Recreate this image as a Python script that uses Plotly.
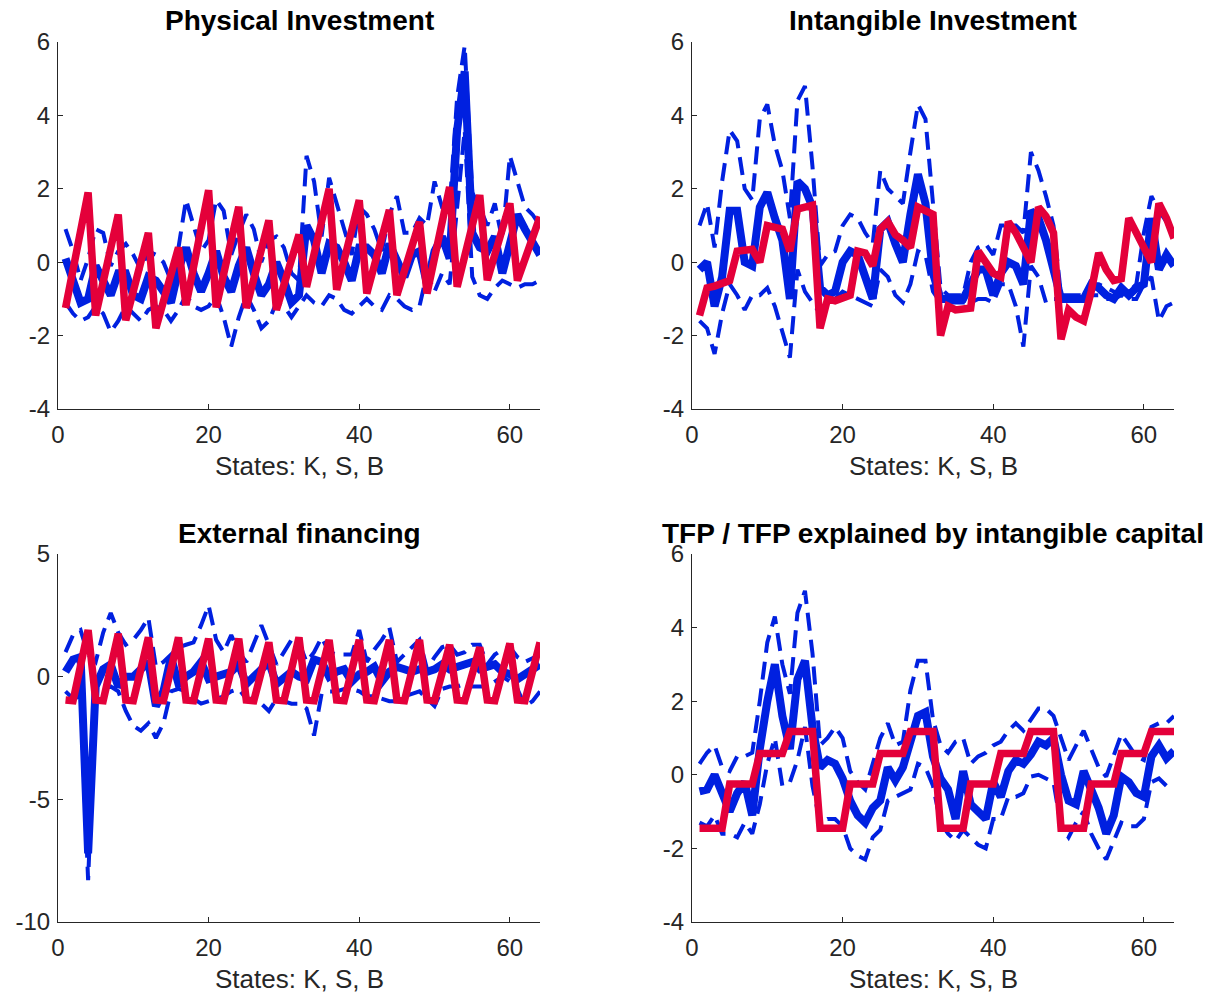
import plotly.graph_objects as go

W, H = 1220, 1001

states = list(range(1, 65))
x_ticks = [0, 20, 40, 60]
x_label = "States: K, S, B"

# ---------------- Physical Investment ----------------
phys_model = [-1.25, -0.2, 0.85, 1.9, -1.45, -0.53, 0.38, 1.3,
              -1.58, -0.79, 0.0, 0.8, -1.8, -1.07, -0.33, 0.4,
              -1.17, -0.13, 0.92, 1.96, -1.23, -0.32, 0.6, 1.51,
              -1.25, -0.45, 0.34, 1.14, -1.3, -0.62, 0.07, 0.75,
              -0.67, 0.22, 1.11, 2.0, -0.75, 0.06, 0.88, 1.69,
              -0.85, -0.09, 0.66, 1.42, -0.9, -0.23, 0.43, 1.1,
              -0.85, 0.12, 1.08, 2.05, -0.67, 0.16, 1.0, 1.83,
              -0.49, 0.21, 0.9, 1.6, -0.5, 0.08, 0.66, 1.24]
phys_mean = [0.1, -0.5, -1.1, -1.0, -0.1, -0.5, -0.9, -0.3,
             -0.3, -0.9, -1.0, -0.4, -0.5, -0.8, -1.1, -0.2,
             0.4, -0.3, -0.8, -0.3, 0.3, -0.4, -0.8, -0.1,
             0.4, -0.3, -0.9, -0.6, 0.0, -0.5, -1.1, -0.9,
             1.0, 0.6, -0.3, 0.5, 0.4, 0.0, -0.5, 0.4,
             0.4, 0.2, -0.3, 0.5, 0.0, -0.4, 0.2, 0.3,
             -0.6, 0.3, 0.7, 0.1, 3.6, 5.2, 0.8, 0.4,
             0.3, 0.7, -0.3, 0.6, 1.3, 0.9, 0.5, 0.2]
phys_upper = [0.9, 0.3, -0.5, 0.1, 0.9, 0.8, -0.1, 0.3,
              0.5, 0.2, -0.2, 0.3, 0.2, 0.0, -0.5, 0.4,
              1.7, 1.0, 0.3, 0.6, 1.7, 1.4, 0.2, 0.8,
              1.3, 0.9, 0.0, 0.6, 0.7, 0.4, -0.3, -0.5,
              2.9, 2.2, 0.7, 2.3, 1.6, 0.9, 0.2, 1.5,
              1.3, 0.9, 0.3, 1.3, 1.8, 0.8, 0.8, 1.2,
              1.0, 2.2, 1.5, 1.5, 4.5, 5.9, 1.9, 1.5,
              1.0, 1.6, 0.6, 2.9, 2.2, 1.5, 1.3, 1.0]
phys_lower = [-1.1, -1.4, -1.6, -1.5, -1.2, -1.4, -1.9, -1.6,
              -1.2, -1.4, -1.6, -1.3, -1.2, -1.3, -1.6, -1.3,
              -0.9, -1.2, -1.3, -1.2, -0.9, -1.5, -2.3, -1.5,
              -0.9, -1.3, -1.8, -1.6, -1.1, -1.2, -1.5, -1.2,
              -0.9, -1.1, -1.2, -0.9, -1.0, -1.3, -1.4, -1.2,
              -1.0, -1.2, -1.3, -0.9, -1.0, -1.2, -1.3, -1.2,
              -0.3, -0.8, -0.3, -0.6, 1.5, 3.6, -0.4, -0.9,
              -1.0, -0.7, -0.5, -0.6, -0.7, -0.6, -0.6, -0.5]

# ---------------- Intangible Investment ----------------
intang_model = [-1.45, -0.7, -0.65, -0.55, -0.5, 0.3, 0.35, 0.35,
                0.0, 1.0, 0.95, 0.9, 0.3, 1.45, 1.5, 1.55,
                -1.8, -1.0, -1.05, -1.0, -0.9, 0.3, 0.25, -0.1,
                0.9, 1.1, 0.75, 0.6, 0.4, 1.5, 1.4, 1.3,
                -2.0, -1.2, -1.3, -1.3, -1.25, 0.3, 0.0, -0.3,
                -0.4, 1.1, 0.8, 0.4, 0.0, 1.5, 1.25, 0.8,
                -2.1, -1.3, -1.5, -1.6, -0.8, 0.25, -0.2, -0.5,
                -0.45, 1.2, 0.8, 0.4, 0.0, 1.6, 1.2, 0.65]
intang_mean = [-0.2, 0.0, -1.2, -0.4, 1.4, 1.4, 0.0, -0.1,
               1.5, 1.9, 1.2, 0.6, -1.0, 2.2, 2.0, 1.5,
               -0.7, -0.9, -0.8, 0.0, 0.3, 0.2, -0.4, -1.0,
               0.9, 1.1, 0.5, 0.0, 1.3, 2.4, 1.6, -0.3,
               -1.0, -1.0, -1.0, -1.0, -0.6, -0.2, -0.2, -0.9,
               -0.3, 0.0, -0.1, -0.6, 1.4, 1.2, 0.6, -0.2,
               -1.0, -1.0, -1.0, -1.0, -0.6, -0.7, -0.9, -1.0,
               -0.7, -0.9, -0.7, -0.6, 1.2, -0.2, 0.2, -0.1]
intang_upper = [1.0, 1.6, 0.4, 2.2, 3.6, 3.3, 2.0, 1.7,
                3.9, 4.3, 3.2, 2.5, 1.2, 4.4, 4.8, 2.6,
                -0.1, 0.2, 0.3, 1.0, 1.3, 1.2, 0.8, 0.5,
                2.5, 2.0, 1.8, 1.6, 3.0, 4.3, 3.9, 1.5,
                -0.7, -0.9, -0.9, -0.9, 0.0, 0.4, 0.5, 0.2,
                1.0, 1.0, 1.0, 0.8, 3.0, 2.5, 1.8, 1.0,
                -0.9, -0.9, -0.9, -0.9, -0.6, -0.6, -0.7, -0.8,
                -0.9, -0.8, -0.6, 0.8, 1.8, 1.4, 1.1, 0.8]
intang_lower = [-1.6, -1.8, -2.5, -1.4, -0.6, -0.9, -1.3, -0.9,
                -0.9, -0.7, -1.2, -1.9, -2.6, -0.2, -0.8, -1.1,
                -1.4, -1.1, -1.0, -0.8, -0.9, -1.0, -1.1, -1.2,
                -0.2, -0.4, -0.9, -1.1, -0.6, 0.3, 0.2, -0.8,
                -1.1, -1.1, -1.1, -1.1, -1.1, -1.0, -1.0, -1.1,
                -0.6, -0.6, -1.2, -2.3, -0.1, -0.4, -1.1, -1.0,
                -1.0, -1.0, -1.0, -1.0, -0.9, -0.9, -1.0, -1.0,
                -0.9, -1.0, -1.0, -0.6, -0.4, -1.6, -1.2, -1.1]

# ---------------- External financing ----------------
extfin_model = [-0.95, -0.98, 0.45, 1.9, -0.95, -0.98, 0.38, 1.75,
                -0.95, -0.98, 0.3, 1.6, -0.95, -0.98, 0.3, 1.6,
                -0.95, -0.98, 0.28, 1.55, -0.95, -0.98, 0.28, 1.55,
                -0.95, -0.98, 0.2, 1.4, -0.95, -0.98, 0.3, 1.6,
                -0.95, -0.98, 0.25, 1.5, -0.95, -0.98, 0.25, 1.5,
                -0.95, -0.98, 0.25, 1.5, -0.95, -0.98, 0.25, 1.5,
                -0.95, -0.98, 0.15, 1.3, -0.95, -0.98, 0.1, 1.2,
                -0.95, -0.98, 0.18, 1.35, -0.95, -0.98, 0.2, 1.4]
extfin_mean = [0.2, 0.7, 0.8, -7.2, -0.4, 0.3, 0.5, -0.4,
               0.0, 0.0, 0.3, 0.6, -1.2, -0.6, 0.8, -0.3,
               0.0, 0.2, 0.6, -0.1, 0.0, 0.1, 0.2, 0.5,
               -0.3, 0.0, 0.3, 0.6, -0.3, 0.0, 0.2, 0.0,
               -0.1, 0.7, 0.6, 0.0, 0.2, 0.3, -0.2, 0.1,
               0.2, 0.4, -0.2, 0.2, 0.4, 0.3, 0.2, 0.3,
               0.2, 0.3, 0.5, 0.3, 0.4, 0.5, 0.6, 0.3,
               0.4, 0.5, 0.2, 0.1, -0.1, 0.1, 0.3, 0.5]
extfin_upper = [1.0, 1.7, 1.9, 0.9, 0.6, 1.8, 2.6, 1.8,
                1.3, 1.5, 1.9, 2.4, 0.4, 0.6, 0.9, 1.2,
                1.3, 1.4, 2.1, 2.9, 1.5, 1.0, 1.7, 1.0,
                0.6, 1.4, 2.1, 1.3, 0.5, 1.0, 1.5, 1.4,
                0.6, 1.0, 1.6, 1.0, 0.9, 0.9, 0.9, 1.9,
                0.6, 1.1, 1.5, 2.0, 0.6, 0.9, 1.2, 1.5,
                0.3, 0.8, 1.2, 1.3, 0.9, 1.0, 1.3, 1.3,
                0.5, 0.9, 1.1, 1.2, 0.8, 0.6, 0.75, 0.9]
extfin_lower = [-0.6, -0.9, -0.8, -8.3, -0.5, -0.5, -0.4, -0.6,
                -1.4, -2.0, -2.2, -1.9, -2.5, -1.9, -0.6, -0.5,
                -0.6, -0.9, -1.1, -1.0, -0.9, -0.8, -0.6, -0.5,
                -0.9, -0.9, -1.1, -1.4, -0.9, -1.0, -1.1, -1.1,
                -1.3, -2.4, -0.7, -0.6, -0.6, -0.5, -0.5, -0.6,
                -0.8, -0.8, -0.9, -1.0, -1.0, -0.8, -0.7, -0.6,
                -0.9, -1.2, -0.5, -0.4, -0.4, -0.3, -0.4, -0.4,
                -0.4, -0.2, 0.0, -0.2, -0.5, -1.2, -1.0, -0.6]

# ---------------- TFP ----------------
tfp_model = [-1.45, -1.45, -1.45, -1.45, -0.25, -0.25, -0.25, -0.25,
             0.58, 0.58, 0.58, 0.58, 1.18, 1.18, 1.18, 1.18,
             -1.45, -1.45, -1.45, -1.45, -0.25, -0.25, -0.25, -0.25,
             0.58, 0.58, 0.58, 0.58, 1.18, 1.18, 1.18, 1.18,
             -1.45, -1.45, -1.45, -1.45, -0.25, -0.25, -0.25, -0.25,
             0.58, 0.58, 0.58, 0.58, 1.18, 1.18, 1.18, 1.18,
             -1.45, -1.45, -1.45, -1.45, -0.25, -0.25, -0.25, -0.25,
             0.58, 0.58, 0.58, 0.58, 1.18, 1.18, 1.18, 1.18]
tfp_mean = [-0.45, -0.4, 0.0, -0.5, -1.0, -0.5, -0.2, -1.1,
            0.7, 2.0, 3.0, 1.6, 0.7, 2.6, 3.1, 1.3,
            0.2, 0.4, 0.3, -0.1, -0.7, -1.1, -1.3, -0.9,
            -0.7, 0.2, -0.15, 0.2, 0.9, 1.6, 1.7, 0.5,
            -0.1, -0.4, -1.2, 0.1, -0.8, -1.0, -1.2, -0.2,
            -0.6, 0.1, 0.4, 0.3, 0.55, 0.9, 0.8, 1.0,
            0.0, -0.7, -0.8, 0.1, -0.35, -0.9, -1.6, -1.1,
            -0.05, -0.2, -0.5, -0.6, 0.5, 0.8, 0.45, 0.65]
tfp_upper = [0.3, 0.6, 0.8, 0.2, 0.1, 0.5, 0.5, 0.6,
             2.0, 3.6, 4.3, 3.0, 2.2, 4.4, 5.0, 3.3,
             0.8, 1.0, 1.3, 1.0, 0.1, -0.2, -0.4, 0.3,
             1.0, 1.4, 0.8, 0.9, 2.3, 3.1, 3.1, 1.5,
             0.8, 0.6, 0.9, 1.0, 0.3, 0.5, 0.6, 0.8,
             0.9, 1.2, 1.4, 1.2, 1.5, 1.8, 1.8, 1.6,
             1.0, 0.4, 0.8, 1.2, 0.7, 0.2, -0.05, 0.5,
             1.1, 0.8, 0.5, 0.4, 1.3, 1.4, 1.4, 1.6]
tfp_lower = [-1.3, -1.4, -1.1, -1.6, -1.6, -1.7, -1.3, -1.6,
             -0.8, 0.3, 1.0, -0.3, -0.2, 0.4, 1.3, -0.3,
             -1.3, -1.2, -1.2, -1.4, -2.0, -2.2, -2.3, -1.7,
             -1.5, -0.7, -0.6, -0.5, -0.4, 0.3, 0.2, -0.3,
             -1.3, -1.6, -1.8, -1.5, -1.7, -1.9, -2.0, -1.2,
             -1.2, -0.6, -0.6, -0.5, -0.05, 0.0, -0.1, -0.2,
             -1.4, -1.7, -1.3, -1.0, -1.6, -2.0, -2.3, -1.8,
             -1.3, -1.4, -1.4, -1.2, -0.2, -0.1, -0.3, -0.4]

BLUE = "#0020E0"
RED = "#E4003A"
AX = "#262626"
FONT = "Liberation Sans"

panels = [
    dict(title="Physical Investment", mean=phys_mean, up=phys_upper, lo=phys_lower,
         model=phys_model, yr=[-4, 6], yt=[-4, -2, 0, 2, 4, 6], box=(58, 540, 42, 409)),
    dict(title="Intangible Investment", mean=intang_mean, up=intang_upper, lo=intang_lower,
         model=intang_model, yr=[-4, 6], yt=[-4, -2, 0, 2, 4, 6], box=(692, 1174, 42, 409)),
    dict(title="External financing", mean=extfin_mean, up=extfin_upper, lo=extfin_lower,
         model=extfin_model, yr=[-10, 5], yt=[-10, -5, 0, 5], box=(58, 540, 554, 922)),
    dict(title="TFP / TFP explained by intangible capital", mean=tfp_mean, up=tfp_upper,
         lo=tfp_lower, model=tfp_model, yr=[-4, 6], yt=[-4, -2, 0, 2, 4, 6],
         box=(692, 1174, 554, 922)),
]

fig = go.Figure()
layout = dict(width=W, height=H, margin=dict(l=0, r=0, t=0, b=0, pad=0, autoexpand=False),
              paper_bgcolor="white", plot_bgcolor="white", showlegend=False)
annotations = []

for i, p in enumerate(panels, start=1):
    xa = "x" if i == 1 else f"x{i}"
    ya = "y" if i == 1 else f"y{i}"
    x0, x1, y0, y1 = p["box"]
    dash = dict(color=BLUE, width=4, dash="18px,9px")
    fig.add_trace(go.Scatter(x=states, y=p["up"], mode="lines", line=dash, xaxis=xa, yaxis=ya))
    fig.add_trace(go.Scatter(x=states, y=p["lo"], mode="lines", line=dash, xaxis=xa, yaxis=ya))
    fig.add_trace(go.Scatter(x=states, y=p["mean"], mode="lines",
                             line=dict(color=BLUE, width=8), xaxis=xa, yaxis=ya))
    fig.add_trace(go.Scatter(x=states, y=p["model"], mode="lines",
                             line=dict(color=RED, width=7.5), xaxis=xa, yaxis=ya))
    common = dict(showline=True, linecolor=AX, linewidth=1, ticks="inside", ticklen=5,
                  tickcolor=AX, showgrid=False, zeroline=False, automargin=False,
                  tickfont=dict(family=FONT, size=24, color=AX))
    layout["xaxis" if i == 1 else f"xaxis{i}"] = dict(
        domain=[x0 / W, x1 / W], range=[0, 64], tickvals=x_ticks,
        ticktext=[str(v) for v in x_ticks],
        anchor=ya, ticklabelstandoff=4, **common)
    layout["yaxis" if i == 1 else f"yaxis{i}"] = dict(
        domain=[1 - y1 / H, 1 - y0 / H], range=p["yr"], tickvals=p["yt"],
        ticktext=[str(v) for v in p["yt"]],
        anchor=xa, ticklabelstandoff=2, **common)
    cx = (x0 + x1) / 2
    annotations.append(dict(text=f"<b>{p['title']}</b>", xref="paper", yref="paper",
                            x=cx / W, y=1 - (y0 - 21) / H, xanchor="center", yanchor="middle",
                            showarrow=False, font=dict(family=FONT, size=28, color="black")))
    annotations.append(dict(text=x_label, xref="paper", yref="paper",
                            x=cx / W, y=1 - (y1 + 57) / H, xanchor="center", yanchor="middle",
                            showarrow=False, font=dict(family=FONT, size=26, color=AX)))

layout["annotations"] = annotations
fig.update_layout(**layout)
fig.write_html("out.html")
